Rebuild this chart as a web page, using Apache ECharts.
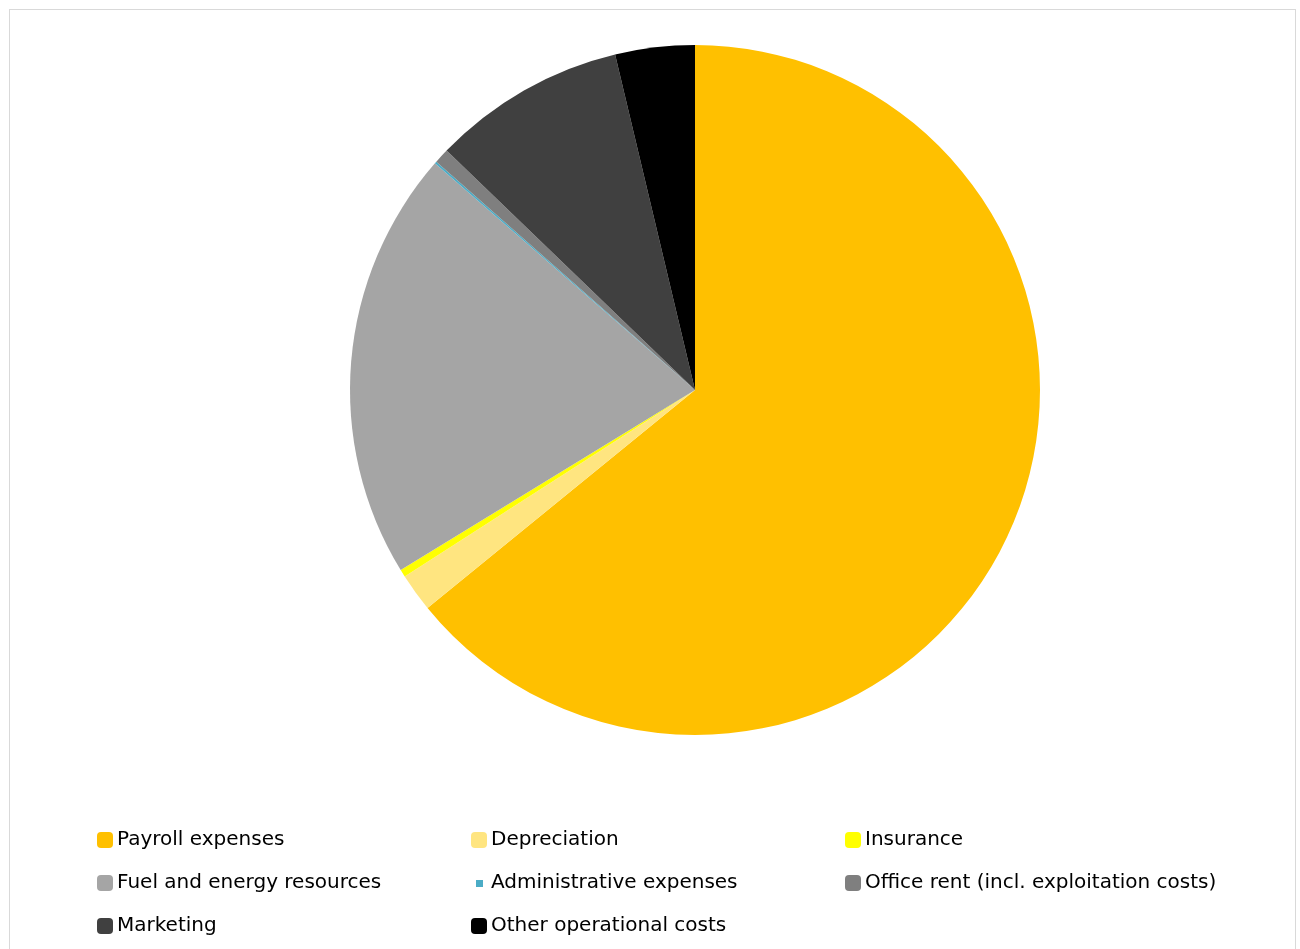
<!DOCTYPE html>
<html>
<head>
<meta charset="utf-8">
<script src="https://cdn.jsdelivr.net/npm/echarts@6/dist/echarts.min.js"></script>
<style>
html,body{margin:0;padding:0;background:#fff;}
#frame{position:absolute;left:9px;top:9px;width:1287px;height:960px;border:1px solid #d9d9d9;box-sizing:border-box;}
#chart{position:absolute;left:0;top:0;width:1300px;height:949px;}
</style>
</head>
<body>
<div id="frame"></div>
<div id="chart"></div>
<script>
const categories = ["Payroll expenses","Depreciation","Insurance","Fuel and energy resources","Administrative expenses","Office rent (incl. exploitation costs)","Marketing","Other operational costs"];
const values = [64.3, 1.8, 0.35, 20.2, 0.1, 0.7, 9.1, 3.73];
const colors = ["#FFC000","#FFE580","#FFFF00","#A5A5A5","#4BACC6","#7F7F7F","#404040","#000000"];

const col1 = [categories[0], categories[3], categories[6]];
const col2 = [categories[1], categories[4], categories[7]];
const col3 = [categories[2], categories[5]];

const smallIcon = 'image://data:image/svg+xml;utf8,' + encodeURIComponent(
  '<svg xmlns="http://www.w3.org/2000/svg" width="16" height="16"><rect x="5" y="5" width="7" height="7" fill="#4BACC6"/></svg>');

function legend(data, left) {
  return {
    orient: 'vertical', left: left, top: 825,
    itemWidth: 16, itemHeight: 16, itemGap: 23,
    icon: 'roundRect',
    selectedMode: false,
    textStyle: { fontFamily: 'DejaVu Sans', fontSize: 20, color: '#000', padding: [0,0,0,-1] },
    data: data.map(n => n === categories[4] ? { name: n, icon: smallIcon } : { name: n })
  };
}

const chart = echarts.init(document.getElementById('chart'));
chart.setOption({
  animation: false,
  color: colors,
  legend: [legend(col1, 92), legend(col2, 466), legend(col3, 840)],
  series: [{
    type: 'pie',
    center: [695, 390],
    radius: [0, 345],
    startAngle: 90,
    clockwise: true,
    label: { show: false },
    labelLine: { show: false },
    emphasis: { disabled: true },
    data: categories.map((c, i) => ({ name: c, value: values[i] }))
  }]
});
</script>
</body>
</html>
